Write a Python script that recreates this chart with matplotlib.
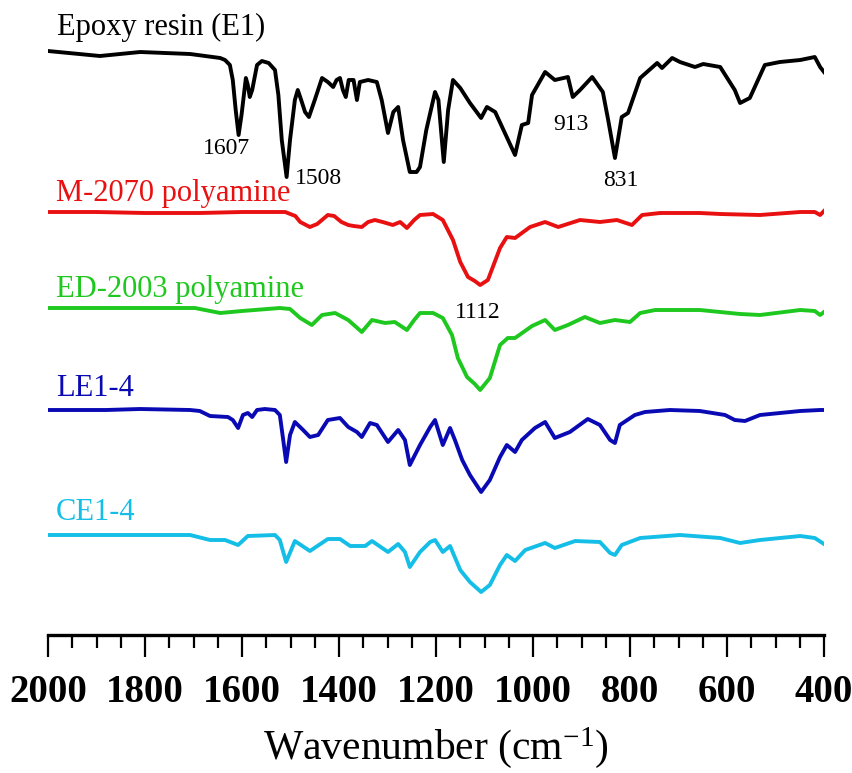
import matplotlib
matplotlib.use("Agg")
import matplotlib.pyplot as plt
from matplotlib.ticker import MultipleLocator

plt.rcParams['font.family'] = ['Liberation Serif', 'DejaVu Serif']
plt.rcParams['mathtext.fontset'] = 'custom'
plt.rcParams['mathtext.rm'] = 'Liberation Serif'
plt.rcParams['mathtext.it'] = 'Liberation Serif:italic'
plt.rcParams['mathtext.bf'] = 'Liberation Serif:bold'

# ---- data (wavenumber, trace height in arbitrary units, offset stacked) ----
epoxy_wn = [2000,1893,1810,1707,1645,1635,1625,1619,1613,1607,1601,1592,1588,1584,1579,1569,1559,1545,1532,1525,1518,1508,1501,1491,1485,1478,1470,1462,1450,1435,1423,1412,1405,1398,1392,1386,1380,1370,1363,1357,1340,1322,1312,1299,1288,1278,1268,1254,1240,1233,1220,1202,1195,1184,1175,1165,1150,1130,1107,1095,1078,1058,1037,1023,1010,1002,975,955,928,918,903,878,856,845,831,817,804,779,744,734,713,697,666,649,614,584,573,553,522,491,449,419,408,400]
epoxy_py = [51,56,52,54,58,60,65,80,110,135,115,78,85,97,90,65,61,63,70,95,140,177,140,100,90,100,112,117,100,78,82,87,80,78,90,97,80,80,100,82,80,82,100,133,112,107,140,172,172,167,130,92,100,162,110,80,88,103,118,107,112,133,155,125,123,95,72,80,77,97,90,77,92,120,158,117,113,78,63,68,58,62,67,64,67,90,103,98,65,62,60,57,67,72]

m2070_wn = [2000,1900,1800,1687,1600,1511,1490,1480,1460,1445,1423,1410,1395,1381,1370,1353,1340,1326,1310,1289,1274,1260,1245,1233,1206,1186,1165,1150,1134,1120,1109,1093,1068,1054,1037,1006,975,948,903,862,827,796,775,738,656,614,532,449,419,408,400]
m2070_py = [212,212,213,213,212,212,216,222,227,224,215,216,222,225,226,227,222,220,222,225,222,228,220,215,214,220,240,262,277,281,285,280,248,237,238,227,222,227,220,222,220,225,215,213,213,214,215,212,212,215,211]

ed2003_wn = [2000,1900,1800,1697,1645,1600,1522,1501,1480,1456,1435,1408,1381,1353,1332,1305,1285,1260,1245,1233,1206,1186,1167,1155,1136,1120,1109,1089,1068,1052,1037,1002,975,955,928,893,862,831,800,779,748,656,573,532,449,419,408,400]
ed2003_py = [308,308,308,308,313,311,308,309,318,325,315,313,320,332,320,323,322,330,320,313,313,318,335,358,377,384,390,378,345,338,338,326,320,330,325,317,323,320,322,313,310,310,314,315,310,311,315,312]

le14_wn = [2000,1880,1810,1707,1687,1666,1629,1619,1608,1598,1588,1579,1569,1553,1532,1522,1515,1509,1501,1491,1474,1460,1443,1423,1398,1381,1363,1353,1336,1322,1299,1278,1264,1254,1233,1212,1202,1186,1171,1161,1146,1130,1107,1089,1068,1054,1037,1023,996,975,955,924,887,862,841,831,821,790,769,718,656,604,584,563,532,449,408,400]
le14_py = [410,410,409,410,411,416,417,420,428,415,413,417,410,409,410,415,440,462,435,422,430,437,435,420,418,427,432,437,423,425,442,430,440,465,445,427,420,445,428,440,460,475,492,480,457,445,452,440,428,422,438,432,419,425,440,443,425,415,412,410,411,415,420,421,415,411,410,410]

ce14_wn = [2000,1900,1800,1707,1666,1635,1608,1588,1532,1522,1515,1509,1491,1460,1423,1398,1377,1346,1332,1299,1278,1264,1254,1233,1212,1202,1186,1171,1150,1130,1107,1089,1068,1054,1037,1016,975,955,913,862,841,831,817,779,697,614,573,532,449,419,400]
ce14_py = [535,535,535,535,540,540,545,536,535,540,552,562,541,551,539,539,546,546,541,552,544,552,567,552,542,540,552,546,570,582,592,585,565,555,561,550,543,548,541,542,553,555,545,538,535,538,543,540,536,538,544]

series_names = ["Epoxy resin (E1)", "M-2070 polyamine", "ED-2003 polyamine", "LE1-4", "CE1-4"]
series_colors = ["#000000", "#e81010", "#1ec81e", "#0a0ab4", "#14bee6"]
label_pos = [(1981, 673), (1984, 506), (1984, 411), (1984, 311), (1984, 188)]

peak_labels = ["1607", "1508", "913", "831", "1112"]
peak_pos = [(1633, 551), (1443, 521), (922, 575), (819, 520), (1113, 388)]

xticks = [2000, 1800, 1600, 1400, 1200, 1000, 800, 600, 400]

# ---- plot ----
fig = plt.figure(figsize=(8.53, 7.73), dpi=100)
ax = fig.add_axes([48/853, (773-635)/773, 776/853, 625/773])

all_wn = [epoxy_wn, m2070_wn, ed2003_wn, le14_wn, ce14_wn]
all_py = [epoxy_py, m2070_py, ed2003_py, le14_py, ce14_py]
for wn, py, name, col, (lx, ly) in zip(all_wn, all_py, series_names, series_colors, label_pos):
    ax.plot(wn, [700 - v for v in py], color=col, lw=2.8, solid_joinstyle='round')
    ax.text(lx, ly, name, color=col, fontsize=22, ha='left', va='center')

for t, (px, py) in zip(peak_labels, peak_pos):
    ax.text(px, py, t, color='black', fontsize=17, ha='center', va='center')

ax.set_xlim(2000, 400)
ax.set_ylim(65, 690)
for s in ['left', 'right', 'top']:
    ax.spines[s].set_visible(False)
ax.spines['bottom'].set_linewidth(2.4)
ax.set_yticks([])
ax.set_xticks(xticks)
ax.set_xticklabels([str(v) for v in xticks])
ax.xaxis.set_minor_locator(MultipleLocator(50))
ax.tick_params(axis='x', which='major', direction='out', length=16, width=1.6, pad=12,
               labelsize=28)
ax.tick_params(axis='x', which='minor', direction='out', length=9.5, width=1.6)
for lab in ax.get_xticklabels():
    lab.set_fontweight('bold')
ax.set_xlabel(r"Wavenumber (cm$^{\mathregular{-1}}$)", fontsize=30, labelpad=10)

fig.savefig("out.png", dpi=100)
